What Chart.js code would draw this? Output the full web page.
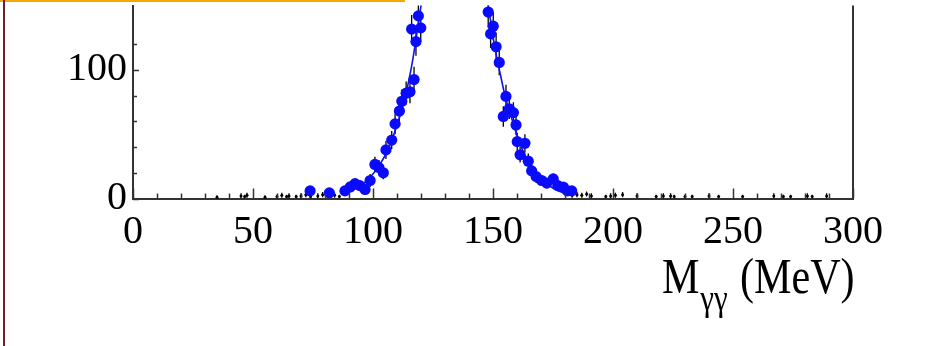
<!DOCTYPE html>
<html>
<head>
<meta charset="utf-8">
<script src="https://cdn.jsdelivr.net/npm/chart.js@4.4.0/dist/chart.umd.min.js"></script>
<style>
  body { margin: 0; background: #fff; }
  #wrap { position: relative; width: 941px; height: 346px; overflow: hidden; }
  #topLine { position: absolute; left: 0; top: 0; width: 405px; height: 2px; background: #f5a800; }
  #leftLine { position: absolute; left: 3px; top: 0; width: 2px; height: 346px; background: #6a1f2a; }
  #xTitle {
    position: absolute; left: 662px; top: 247px;
    font-family: "Liberation Serif", serif; font-size: 49px; color: #000;
    white-space: nowrap; transform: scale(0.86, 1.02); transform-origin: left top;
  }
  #xTitle sub { font-size: 36px; vertical-align: -17px; margin-left: 1px; margin-right: 2px; }
</style>
</head>
<body>
<div id="wrap">
  <canvas id="massChart" width="941" height="346"></canvas>
  <div id="topLine"></div>
  <div id="leftLine"></div>
  <div id="xTitle">M<sub>γγ</sub> (MeV)</div>
</div>
<script>
// signal bins (blue); peak bins run off the top
const sigX   = [73.8, 81.8, 88.3, 90.5, 92.5, 94.5, 96.7, 98.8, 100.8, 102.5, 104.3, 105.4, 107.8, 109.2, 111, 112, 113.8, 115.4, 116.1, 117.1, 117.9, 118.9, 119.9,
                121, 124, 128, 132, 136, 140, 144, 146.5,
                148, 149, 150.1, 151.3, 152.6, 154.3, 155.4, 156.8, 158.5, 159.6, 160.1, 161.3, 163.3, 164.7, 166.1, 168, 170.3, 172.4, 175.1, 177, 179.3, 181, 182.8];
const sigY   = [5.9, 4.4, 5.9, 9, 11.5, 10, 7, 14, 26.5, 24, 20, 37.8, 45.4, 58, 68, 75.6, 81.9, 83, 131.7, 92.5, 122, 142, 132.7,
                170, 215, 270, 310, 320, 290, 230, 175,
                145, 128, 134, 118, 105.8, 63.8, 79.4, 69.8, 66.8, 57.2, 44.2, 34, 42.9, 29, 21.5, 17, 14, 12, 15.2, 10, 8.9, 6, 5.9];
const sigErr = [3, 3, 3, 4, 4, 4, 4, 5, 6, 6, 5, 7, 7, 8, 8, 9, 9, 9, 11, 10, 11, 12, 11,
                13, 14, 16, 17, 18, 17, 15, 13,
                12, 11, 11, 11, 10, 8, 9, 8, 8, 8, 7, 6, 7, 6, 5, 5, 4, 4, 4, 3, 3, 3, 3];

// fitted line shape (blue)
const fitX = [90, 94, 98, 102, 106, 110, 113, 116, 118, 120, 122, 126, 130, 135, 140, 144, 147, 149, 151, 153, 155, 157, 159, 161, 163, 166, 169, 172, 176, 180];
const fitY = [5, 9, 15, 24, 37, 57, 76, 102, 125, 150, 180, 240, 290, 310, 280, 220, 165, 138, 115, 97, 80, 67, 55, 44, 35, 25, 17, 12, 7, 4];

// background bins (black), near zero
const bgX   = [35, 45, 46.5, 47.5, 55, 60, 62, 64, 65, 68, 70, 72, 74, 77, 79, 82, 84, 86,
               183, 185, 187, 189, 191, 197, 199, 201, 204, 210, 218, 221, 224, 225.5, 230, 233, 240, 244, 254, 267, 271, 274, 281, 283, 289];
const bgY   = [1, 2, 1.5, 2.5, 1, 1.5, 2.5, 1.5, 2, 1.5, 2, 3, 1.5, 2, 3, 2, 2.5, 1.5,
               2.5, 3, 2.5, 3.5, 2, 1.5, 2, 2.5, 3, 2, 1.5, 2, 2, 1.5, 1.5, 1.5, 2, 1.5, 1.5, 2, 1.5, 1.5, 2, 1.5, 2];
const bgErr = [1.5, 2, 1.5, 2, 1.5, 1.5, 2, 1.5, 2, 1.5, 2, 2, 1.5, 2, 2, 2, 2, 1.5,
               2, 2, 2, 2, 2, 1.5, 2, 2, 2, 2, 1.5, 2, 2, 1.5, 1.5, 1.5, 2, 1.5, 1.5, 2, 1.5, 1.5, 2, 1.5, 2];

// axis ticks
const xMin = 0, xMax = 300, xStep = 10, xLabelEvery = 50;
const yMin = 0, yMax = 150, yStep = 20;
const yLabels = [0, 100];

const toPoints = (xs, ys) => xs.map((x, i) => ({ x: x, y: ys[i] }));

// error bars, inward ticks and right frame line
const physicsFrame = {
  id: "physicsFrame",
  beforeDatasetsDraw(chart) {
    const { ctx, chartArea: a, scales: { x, y } } = chart;
    ctx.save();
    ctx.beginPath();
    ctx.rect(a.left, a.top, a.right - a.left, a.bottom - a.top);
    ctx.clip();
    ctx.strokeStyle = "#000";
    ctx.lineWidth = 1.3;
    [[sigX, sigY, sigErr], [bgX, bgY, bgErr]].forEach(([xs, ys, es]) => {
      xs.forEach((xv, i) => {
        const px = x.getPixelForValue(xv);
        ctx.beginPath();
        ctx.moveTo(px, y.getPixelForValue(ys[i] - es[i]));
        ctx.lineTo(px, y.getPixelForValue(ys[i] + es[i]));
        ctx.stroke();
      });
    });
    ctx.restore();
  },
  afterDraw(chart) {
    const { ctx, chartArea: a, scales: { x, y } } = chart;
    ctx.save();
    ctx.strokeStyle = "#333";
    ctx.lineWidth = 1.5;
    x.ticks.forEach((t) => {
      if (t.value % xStep !== 0) return;
      const px = Math.round(x.getPixelForValue(t.value)) + 0.5;
      const len = t.value % xLabelEvery === 0 ? 10 : 5;
      ctx.beginPath();
      ctx.moveTo(px, a.bottom);
      ctx.lineTo(px, a.bottom - len);
      ctx.stroke();
    });
    y.ticks.forEach((t) => {
      if (t.value % yStep !== 0) return;
      const py = Math.round(y.getPixelForValue(t.value)) + 0.5;
      const len = yLabels.includes(t.value) ? 6 : 4;
      ctx.beginPath();
      ctx.moveTo(a.left, py);
      ctx.lineTo(a.left + len, py);
      ctx.stroke();
    });
    ctx.lineWidth = 2;
    ctx.beginPath();
    ctx.moveTo(a.right, a.top);
    ctx.lineTo(a.right, a.bottom);
    ctx.stroke();
    ctx.restore();
  }
};

const tickFont = { family: "'Liberation Serif', serif", size: 40 };

new Chart(document.getElementById("massChart").getContext("2d"), {
  type: "scatter",
  data: {
    datasets: [
      {
        label: "fit",
        data: toPoints(fitX, fitY),
        showLine: true,
        borderColor: "#1010f0",
        borderWidth: 1.6,
        pointRadius: 0,
        tension: 0.3,
        order: 1
      },
      {
        label: "signal",
        data: toPoints(sigX, sigY),
        backgroundColor: "#0a0aff",
        borderColor: "#0a0aff",
        pointRadius: 5.6,
        pointBorderWidth: 0,
        order: 0
      },
      {
        label: "background",
        data: toPoints(bgX, bgY),
        backgroundColor: "#000",
        borderColor: "#000",
        pointRadius: 1.5,
        pointBorderWidth: 0,
        order: 2
      }
    ]
  },
  options: {
    responsive: false,
    animation: false,
    events: [],
    layout: { padding: { left: 0, right: 88, top: 0, bottom: 0 } },
    plugins: { legend: { display: false }, tooltip: { enabled: false } },
    scales: {
      x: {
        type: "linear",
        min: xMin,
        max: xMax,
        grid: { display: false, drawTicks: false, tickLength: 0 },
        border: { display: true, color: "#333", width: 2 },
        ticks: {
          stepSize: xStep,
          autoSkip: false,
          maxRotation: 0,
          padding: 10,
          color: "#000",
          font: tickFont,
          callback: (v) => (v % xLabelEvery === 0 ? String(v) : "")
        },
        afterFit: (s) => {
          s.height = 147.5;
          s.paddingLeft = 0;
          s.paddingRight = 0;
        }
      },
      y: {
        type: "linear",
        min: yMin,
        max: yMax,
        grid: { display: false, drawTicks: false, tickLength: 0 },
        border: { display: true, color: "#333", width: 2 },
        ticks: {
          stepSize: yStep,
          autoSkip: false,
          padding: 6,
          color: "#000",
          font: tickFont,
          callback: (v) => (yLabels.includes(v) ? String(v) : "")
        },
        afterFit: (s) => {
          s.width = 133;
          s.paddingTop = 0;
          s.paddingBottom = 0;
        }
      }
    }
  },
  plugins: [physicsFrame]
});
</script>
</body>
</html>
